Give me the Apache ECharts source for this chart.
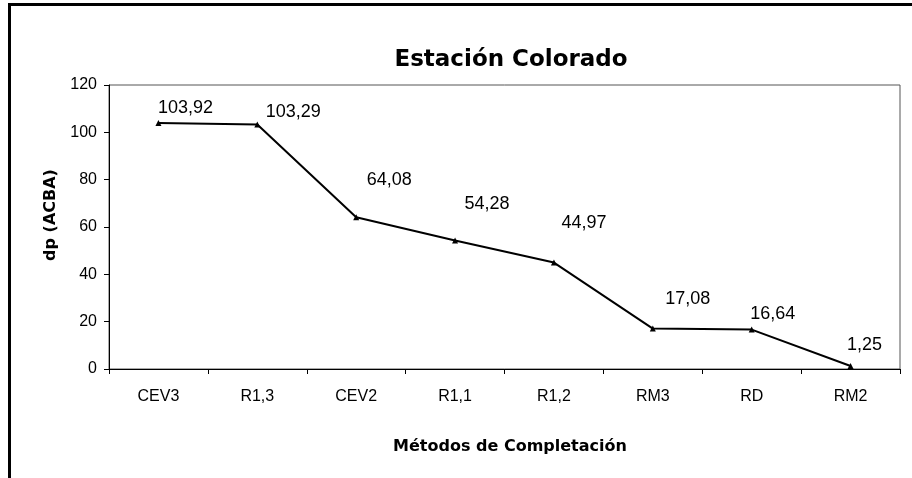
<!DOCTYPE html>
<html>
<head>
<meta charset="utf-8">
<script src="https://cdn.jsdelivr.net/npm/echarts@6/dist/echarts.min.js"></script>
<style>
html,body{margin:0;padding:0;background:#fff;}
#frame{position:absolute;left:8px;top:3px;width:904px;height:475px;border-left:3px solid #000;border-top:3px solid #000;box-sizing:border-box;}
#chart{position:absolute;left:0;top:0;width:912px;height:478px;}
</style>
</head>
<body>
<div id="frame"></div>
<div id="chart"></div>
<script>
const categories = ['CEV3', 'R1,3', 'CEV2', 'R1,1', 'R1,2', 'RM3', 'RD', 'RM2'];
const values = [103.92, 103.29, 64.08, 54.28, 44.97, 17.08, 16.64, 1.25];
const yTicks = [0, 20, 40, 60, 80, 100, 120];
// label placement (pixels from each point to its label centre), style only
const labelOffsets = [[27, -15], [36, -13], [33, -37], [32, -37], [30, -40], [35, -30], [21, -16], [14, -21]];

const chart = echarts.init(document.getElementById('chart'), null, {renderer: 'canvas'});
const font = 'Liberation Sans, Arial, sans-serif';
const boldFont = 'DejaVu Sans, Verdana, sans-serif';
chart.setOption({
  backgroundColor: 'transparent',
  animation: false,
  title: {
    text: 'Estación Colorado',
    left: 506, top: 44, textAlign: 'center',
    textStyle: {fontFamily: boldFont, fontSize: 23, fontWeight: 'bold', color: '#000'}
  },
  grid: {left: 109, right: 12, top: 85, bottom: 109, show: true, borderColor: '#555', borderWidth: 1, containLabel: false},
  xAxis: {
    type: 'category',
    data: categories,
    boundaryGap: true,
    name: 'Métodos de Completación',
    nameLocation: 'middle',
    nameGap: 70,
    nameTextStyle: {fontFamily: boldFont, fontSize: 16, fontWeight: 'bold', color: '#000', padding: [0, 0, 0, 11]},
    axisLine: {lineStyle: {color: '#000', width: 1}},
    axisTick: {show: true, length: 5, inside: false, alignWithLabel: false, lineStyle: {color: '#000'}},
    axisLabel: {margin: 20, fontFamily: font, fontSize: 16, color: '#000'},
    splitLine: {show: false}
  },
  yAxis: {
    type: 'value',
    min: yTicks[0], max: yTicks[yTicks.length - 1], interval: 20,
    name: 'dp (ACBA)',
    nameLocation: 'middle',
    nameGap: 50,
    nameRotate: 90,
    nameTextStyle: {fontFamily: boldFont, fontSize: 16, fontWeight: 'bold', color: '#000', padding: [0, 0, 0, 24]},
    axisLine: {show: true, lineStyle: {color: '#000', width: 1}},
    axisTick: {show: true, length: 5, lineStyle: {color: '#000'}},
    axisLabel: {margin: 12, fontFamily: font, fontSize: 16, color: '#000'},
    splitLine: {show: false}
  },
  series: [{
    type: 'line',
    data: values.map((v, i) => ({
      value: v,
      label: {offset: labelOffsets[i]}
    })),
    symbol: 'triangle',
    symbolSize: 6,
    lineStyle: {color: '#000', width: 2},
    itemStyle: {color: '#000'},
    label: {
      show: true,
      position: 'inside',
      align: 'center',
      verticalAlign: 'middle',
      fontFamily: font, fontSize: 18, color: '#000',
      formatter: p => p.value.toFixed(2).replace('.', ',')
    }
  }]
});
</script>
</body>
</html>
